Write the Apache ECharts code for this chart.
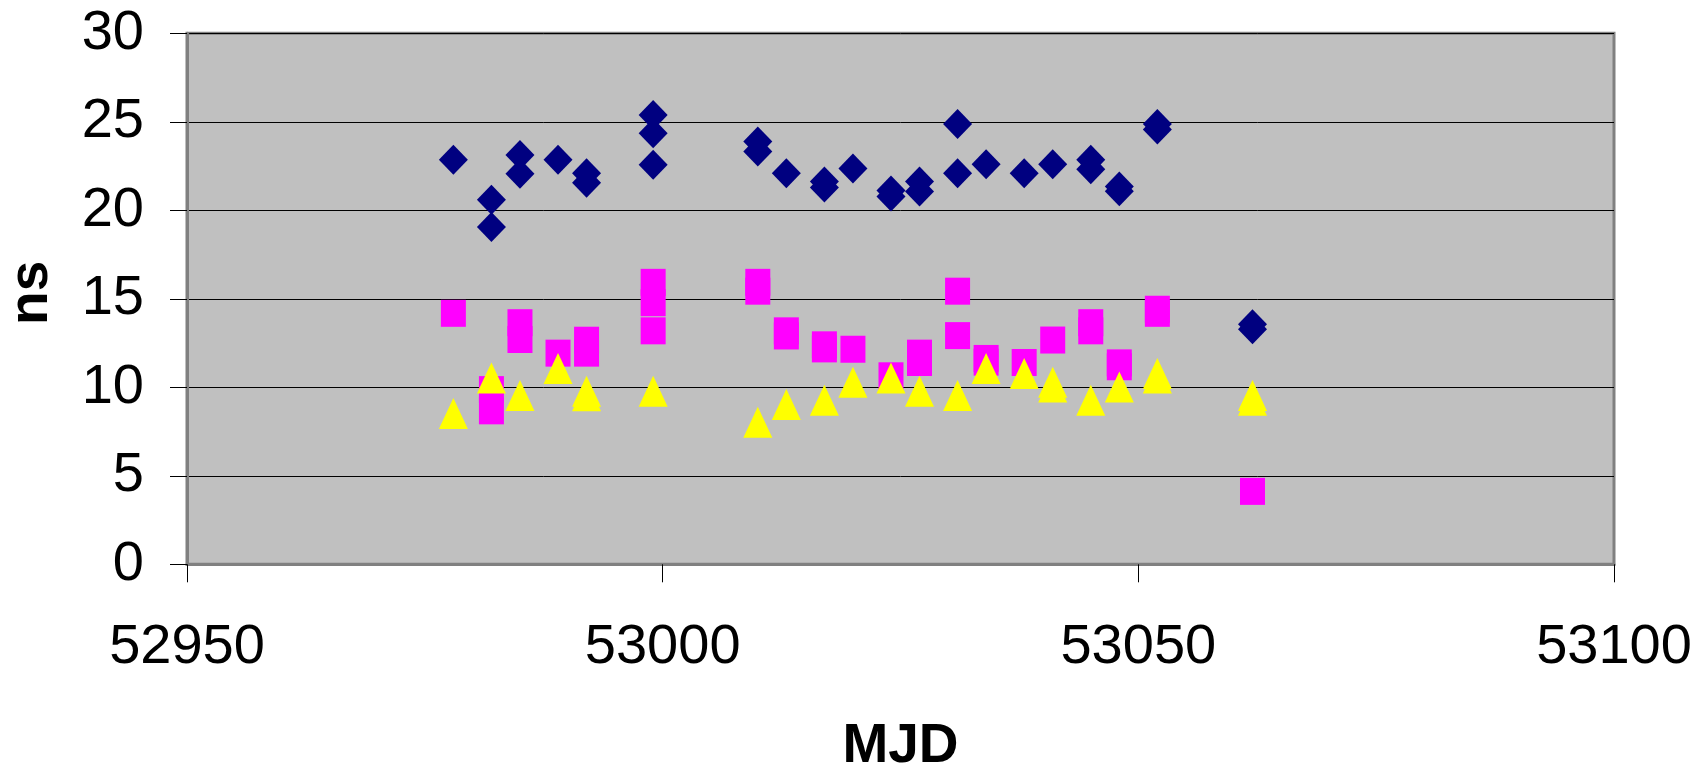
<!DOCTYPE html>
<html>
<head>
<meta charset="utf-8">
<script src="https://cdn.jsdelivr.net/npm/echarts@6/dist/echarts.min.js"></script>
<style>
html,body{margin:0;padding:0;background:#fff;}
#chart{width:1705px;height:772px;}
</style>
</head>
<body>
<div id="chart"></div>
<script>
// X ticks
const xTicks = [52950, 53000, 53050, 53100];
const yTicks = [0, 5, 10, 15, 20, 25, 30];

// Series 1 (navy diamonds)
const diamondMjd = [52978, 52982, 52982, 52985, 52985, 52989, 52992, 52992, 52999, 52999, 52999,
  53010, 53010, 53013, 53017, 53017, 53020, 53024, 53024, 53027, 53027, 53031, 53031, 53034,
  53038, 53041, 53045, 53045, 53048, 53048, 53052, 53052, 53062, 53062];
const diamondNs = [22.85, 20.6, 19.06, 23.13, 22.06, 22.85, 22.1, 21.55, 25.38, 24.35, 22.57,
  23.88, 23.32, 22.09, 21.63, 21.29, 22.36, 21.12, 20.78, 21.63, 21.06, 24.87, 22.09, 22.6,
  22.09, 22.6, 22.86, 22.32, 21.35, 21.07, 24.87, 24.57, 13.56, 13.28];

// Series 2 (magenta squares)
const squareMjd = [52978, 52982, 52982, 52985, 52985, 52989, 52992, 52992, 52999, 52999, 52999,
  53010, 53010, 53013, 53013, 53017, 53017, 53020, 53024, 53027, 53027, 53031, 53031, 53034, 53034,
  53038, 53041, 53045, 53045, 53048, 53048, 53052, 53052, 53062];
const squareNs = [14.18, 9.87, 8.67, 13.65, 12.7, 11.93, 12.66, 11.93, 15.93, 14.78, 13.19,
  15.93, 15.43, 13.19, 12.9, 12.4, 12.17, 12.15, 10.65, 11.93, 11.4, 15.43, 12.92, 11.63, 11.42,
  11.4, 12.67, 13.65, 13.19, 11.38, 11.16, 14.41, 14.18, 4.12];

// Series 3 (yellow triangles)
const triangleMjd = [52978, 52982, 52985, 52989, 52992, 52992, 52999, 53010, 53013, 53017, 53020,
  53024, 53027, 53031, 53034, 53038, 53041, 53041, 53045, 53048, 53052, 53052, 53062, 53062];
const triangleNs = [8.52, 10.53, 9.53, 11.06, 9.78, 9.52, 9.78, 8.03, 9.03, 9.27, 10.29,
  10.53, 9.78, 9.53, 11.06, 10.78, 10.29, 10.02, 9.27, 10.02, 10.78, 10.53, 9.54, 9.27];

const zip = (xs, ys) => xs.map((x, i) => [x, ys[i]]);
const FONT = "'Liberation Sans', Arial, sans-serif";

const chart = echarts.init(document.getElementById('chart'), null, {renderer: 'canvas'});
chart.setOption({
  animation: false,
  grid: {
    left: 187, right: 91, top: 33.3, bottom: 207.7,
    containLabel: false, outerBoundsMode: 'none',
    show: true, backgroundColor: '#C0C0C0', borderColor: '#808080', borderWidth: 3
  },
  xAxis: {
    type: 'value', min: xTicks[0], max: xTicks[xTicks.length - 1], interval: 50,
    name: 'MJD', nameLocation: 'middle', nameGap: 155,
    nameTextStyle: {fontFamily: FONT, fontSize: 55, fontWeight: 'bold', color: '#000'},
    axisLine: {show: true, onZero: false, lineStyle: {color: '#808080', width: 3}},
    axisTick: {show: true, inside: false, length: 18, lineStyle: {color: '#000', width: 1}},
    axisLabel: {fontFamily: FONT, fontSize: 56, color: '#000', margin: 55,
      formatter: v => String(v)},
    splitLine: {show: false}
  },
  yAxis: {
    type: 'value', min: yTicks[0], max: yTicks[yTicks.length - 1], interval: 5,
    name: 'ns', nameLocation: 'middle', nameGap: 128, nameRotate: 90,
    nameTextStyle: {fontFamily: FONT, fontSize: 55, fontWeight: 'bold', color: '#000',
      padding: [0, 0, 0, 12]},
    axisLine: {show: true, lineStyle: {color: '#808080', width: 3}},
    axisTick: {show: true, inside: false, length: 17, lineStyle: {color: '#000', width: 1}},
    axisLabel: {fontFamily: FONT, fontSize: 56, color: '#000', margin: 43},
    splitLine: {show: true, lineStyle: {color: '#000', width: 1}}
  },
  series: [
    {type: 'scatter', name: 'diamond', data: zip(diamondMjd, diamondNs),
      symbol: 'diamond', symbolSize: [29, 30], itemStyle: {color: '#000080', opacity: 1}},
    {type: 'scatter', name: 'square', data: zip(squareMjd, squareNs),
      symbol: 'rect', symbolSize: [25, 27], itemStyle: {color: '#FF00FF', opacity: 1}},
    {type: 'scatter', name: 'triangle', data: zip(triangleMjd, triangleNs),
      symbol: 'triangle', symbolSize: [29, 31], itemStyle: {color: '#FFFF00', opacity: 1}}
  ]
});
</script>
</body>
</html>
